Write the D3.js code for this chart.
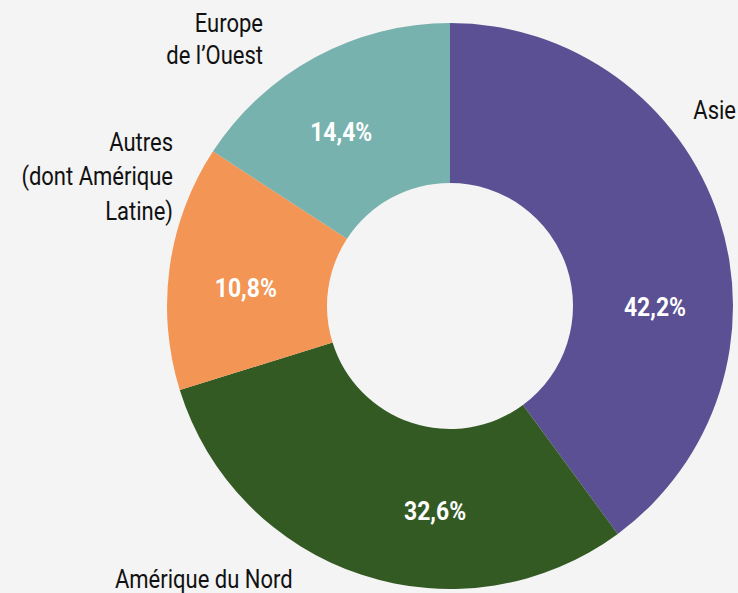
<!DOCTYPE html>
<html>
<head>
<meta charset="utf-8">
<script src="https://cdn.jsdelivr.net/npm/d3@7"></script>
<style>
  html, body { margin: 0; padding: 0; background: #f4f4f4; }
  svg { display: block; }
  text { font-family: Roboto, "Liberation Sans", sans-serif; }
</style>
</head>
<body>
<div class="donut"></div>
<script>
// regions, clockwise from 12 o'clock
var regions = ["Asie", "Amérique du Nord", "Autres (dont Amérique Latine)", "Europe de l'Ouest"];
// share of the circle, as drawn
var shares = [39.9, 30.3, 14.0, 15.8];
// printed labels
var pctLabels = ["42,2%", "32,6%", "10,8%", "14,4%"];
var colors = ["#5a5093", "#345a24", "#f39554", "#78b2ae"];

var width = 738, height = 593;
var cx = 450, cy = 306;
var outerR = 283, innerR = 123, labelR = 205;
// small angular nudges (degrees) for the percent labels
var labelShift = [18.5, -14, -2.8, -3.6];
var squeeze = 0.88; // fake a condensed face

var svg = d3.select(".donut").append("svg")
    .attr("width", width)
    .attr("height", height);

svg.append("rect")
    .attr("width", width)
    .attr("height", height)
    .attr("fill", "#f4f4f4");

var pie = d3.pie().sort(null).value(function(d) { return d; });
var arcs = pie(shares);

var arc = d3.arc().innerRadius(innerR).outerRadius(outerR);
var g = svg.append("g").attr("transform", "translate(" + cx + "," + cy + ")");

g.selectAll("path").data(arcs).enter()
   .append("path")
   .attr("d", arc)
   .attr("fill", function(d, i) { return colors[i]; });

g.selectAll(".pct").data(arcs).enter()
   .append("text")
   .attr("class", "pct")
   .attr("transform", function(d, i) {
     var a = (d.startAngle + d.endAngle) / 2 + labelShift[i] * Math.PI / 180;
     var x = labelR * Math.sin(a), y = -labelR * Math.cos(a);
     return "translate(" + x + "," + y + ") scale(0.9,1)";
   })
   .attr("text-anchor", "middle")
   .attr("dy", "0.36em")
   .attr("fill", "#fff")
   .style("font-weight", "bold")
   .style("font-size", "25.5px")
   .text(function(d, i) { return pctLabels[i]; });

// category names
var names = [
  {lines: ["Asie"], x: 736, y: 119, anchor: "end", dy: 34},
  {lines: ["Amérique du Nord"], x: 115, y: 588, anchor: "start", dy: 34},
  {lines: ["Autres", "(dont Amérique", "Latine)"], x: 173, y: 151, anchor: "end", dy: 34.3},
  {lines: ["Europe", "de l’Ouest"], x: 263, y: 32, anchor: "end", dy: 32.3}
];

names.forEach(function(n) {
  n.lines.forEach(function(line, j) {
    svg.append("text")
       .attr("transform", "translate(" + n.x + "," + (n.y + j * n.dy) + ") scale(" + squeeze + ",1)")
       .attr("text-anchor", n.anchor)
       .attr("fill", "#111")
       .style("font-size", "25px")
       .text(line);
  });
});
</script>
</body>
</html>
